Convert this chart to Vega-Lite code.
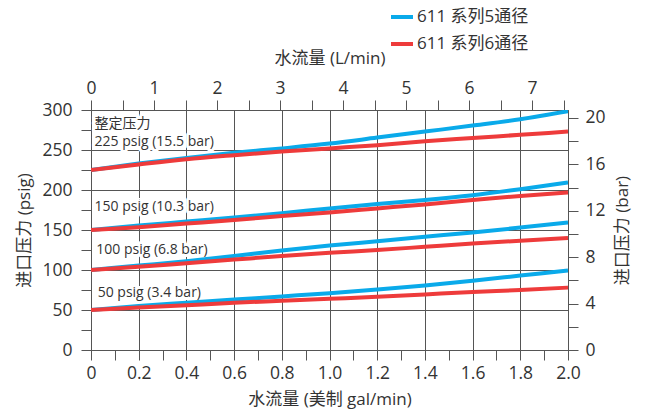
{
  "$schema": "https://vega.github.io/schema/vega-lite/v6.json",
  "width": 477,
  "height": 240,
  "autosize": {"type": "none"},
  "padding": {"left": 91, "top": 110, "right": 84, "bottom": 66},
  "config": {
    "font": "Open Sans, Noto Sans CJK SC",
    "view": {"stroke": "#555", "strokeWidth": 1},
    "axis": {"labelFont": "Open Sans, Noto Sans CJK SC", "titleFont": "Open Sans, Noto Sans CJK SC", "labelColor": "#333", "titleColor": "#333", "titleFontWeight": "normal", "labelFontSize": 17.5, "titleFontSize": 17, "tickColor": "#555", "domainColor": "#555", "tickSize": 10, "gridColor": "#555", "gridWidth": 1, "labelFlush": false, "labelOverlap": false},
    "axisY": {"labelOverlap": false},
    "axisLeft": {"labelOverlap": false},
    "axisQuantitative": {"labelOverlap": false}
  },
  "datasets": {
    "flow": [
      {"series": "611 系列5通径", "set": 225, "gal": 0, "psi": 225}, {"series": "611 系列5通径", "set": 225, "gal": 0.2, "psi": 233}, {"series": "611 系列5通径", "set": 225, "gal": 0.4, "psi": 240}, {"series": "611 系列5通径", "set": 225, "gal": 0.6, "psi": 246.5}, {"series": "611 系列5通径", "set": 225, "gal": 0.8, "psi": 252}, {"series": "611 系列5通径", "set": 225, "gal": 1.0, "psi": 258}, {"series": "611 系列5通径", "set": 225, "gal": 1.2, "psi": 265.5}, {"series": "611 系列5通径", "set": 225, "gal": 1.4, "psi": 273}, {"series": "611 系列5通径", "set": 225, "gal": 1.6, "psi": 280.5}, {"series": "611 系列5通径", "set": 225, "gal": 1.8, "psi": 288.5}, {"series": "611 系列5通径", "set": 225, "gal": 2.0, "psi": 298.5},
      {"series": "611 系列6通径", "set": 225, "gal": 0, "psi": 225}, {"series": "611 系列6通径", "set": 225, "gal": 0.2, "psi": 232}, {"series": "611 系列6通径", "set": 225, "gal": 0.4, "psi": 238.5}, {"series": "611 系列6通径", "set": 225, "gal": 0.6, "psi": 243.5}, {"series": "611 系列6通径", "set": 225, "gal": 0.8, "psi": 248}, {"series": "611 系列6通径", "set": 225, "gal": 1.0, "psi": 252}, {"series": "611 系列6通径", "set": 225, "gal": 1.2, "psi": 256}, {"series": "611 系列6通径", "set": 225, "gal": 1.4, "psi": 261}, {"series": "611 系列6通径", "set": 225, "gal": 1.6, "psi": 265}, {"series": "611 系列6通径", "set": 225, "gal": 1.8, "psi": 269}, {"series": "611 系列6通径", "set": 225, "gal": 2.0, "psi": 273},
      {"series": "611 系列5通径", "set": 150, "gal": 0, "psi": 150}, {"series": "611 系列5通径", "set": 150, "gal": 0.2, "psi": 155.5}, {"series": "611 系列5通径", "set": 150, "gal": 0.4, "psi": 160.5}, {"series": "611 系列5通径", "set": 150, "gal": 0.6, "psi": 165.5}, {"series": "611 系列5通径", "set": 150, "gal": 0.8, "psi": 171}, {"series": "611 系列5通径", "set": 150, "gal": 1.0, "psi": 177}, {"series": "611 系列5通径", "set": 150, "gal": 1.2, "psi": 182.5}, {"series": "611 系列5通径", "set": 150, "gal": 1.4, "psi": 187.5}, {"series": "611 系列5通径", "set": 150, "gal": 1.6, "psi": 193.5}, {"series": "611 系列5通径", "set": 150, "gal": 1.8, "psi": 201}, {"series": "611 系列5通径", "set": 150, "gal": 2.0, "psi": 209.5},
      {"series": "611 系列6通径", "set": 150, "gal": 0, "psi": 150}, {"series": "611 系列6通径", "set": 150, "gal": 0.2, "psi": 153.5}, {"series": "611 系列6通径", "set": 150, "gal": 0.4, "psi": 158}, {"series": "611 系列6通径", "set": 150, "gal": 0.6, "psi": 162.5}, {"series": "611 系列6通径", "set": 150, "gal": 0.8, "psi": 167.5}, {"series": "611 系列6通径", "set": 150, "gal": 1.0, "psi": 172}, {"series": "611 系列6通径", "set": 150, "gal": 1.2, "psi": 177}, {"series": "611 系列6通径", "set": 150, "gal": 1.4, "psi": 182}, {"series": "611 系列6通径", "set": 150, "gal": 1.6, "psi": 187.5}, {"series": "611 系列6通径", "set": 150, "gal": 1.8, "psi": 192.5}, {"series": "611 系列6通径", "set": 150, "gal": 2.0, "psi": 197},
      {"series": "611 系列5通径", "set": 100, "gal": 0, "psi": 100}, {"series": "611 系列5通径", "set": 100, "gal": 0.2, "psi": 105.5}, {"series": "611 系列5通径", "set": 100, "gal": 0.4, "psi": 111}, {"series": "611 系列5通径", "set": 100, "gal": 0.6, "psi": 117.5}, {"series": "611 系列5通径", "set": 100, "gal": 0.8, "psi": 124.5}, {"series": "611 系列5通径", "set": 100, "gal": 1.0, "psi": 130.5}, {"series": "611 系列5通径", "set": 100, "gal": 1.2, "psi": 136}, {"series": "611 系列5通径", "set": 100, "gal": 1.4, "psi": 141.5}, {"series": "611 系列5通径", "set": 100, "gal": 1.6, "psi": 147}, {"series": "611 系列5通径", "set": 100, "gal": 1.8, "psi": 153}, {"series": "611 系列5通径", "set": 100, "gal": 2.0, "psi": 159.5},
      {"series": "611 系列6通径", "set": 100, "gal": 0, "psi": 100}, {"series": "611 系列6通径", "set": 100, "gal": 0.2, "psi": 104}, {"series": "611 系列6通径", "set": 100, "gal": 0.4, "psi": 108.5}, {"series": "611 系列6通径", "set": 100, "gal": 0.6, "psi": 113}, {"series": "611 系列6通径", "set": 100, "gal": 0.8, "psi": 117.5}, {"series": "611 系列6通径", "set": 100, "gal": 1.0, "psi": 121.5}, {"series": "611 系列6通径", "set": 100, "gal": 1.2, "psi": 125}, {"series": "611 系列6通径", "set": 100, "gal": 1.4, "psi": 129}, {"series": "611 系列6通径", "set": 100, "gal": 1.6, "psi": 133}, {"series": "611 系列6通径", "set": 100, "gal": 1.8, "psi": 136.7}, {"series": "611 系列6通径", "set": 100, "gal": 2.0, "psi": 140},
      {"series": "611 系列5通径", "set": 50, "gal": 0, "psi": 50}, {"series": "611 系列5通径", "set": 50, "gal": 0.2, "psi": 55}, {"series": "611 系列5通径", "set": 50, "gal": 0.4, "psi": 59}, {"series": "611 系列5通径", "set": 50, "gal": 0.6, "psi": 63}, {"series": "611 系列5通径", "set": 50, "gal": 0.8, "psi": 67}, {"series": "611 系列5通径", "set": 50, "gal": 1.0, "psi": 71}, {"series": "611 系列5通径", "set": 50, "gal": 1.2, "psi": 75.5}, {"series": "611 系列5通径", "set": 50, "gal": 1.4, "psi": 80.5}, {"series": "611 系列5通径", "set": 50, "gal": 1.6, "psi": 86.5}, {"series": "611 系列5通径", "set": 50, "gal": 1.8, "psi": 93}, {"series": "611 系列5通径", "set": 50, "gal": 2.0, "psi": 99.5},
      {"series": "611 系列6通径", "set": 50, "gal": 0, "psi": 50}, {"series": "611 系列6通径", "set": 50, "gal": 0.2, "psi": 53}, {"series": "611 系列6通径", "set": 50, "gal": 0.4, "psi": 56}, {"series": "611 系列6通径", "set": 50, "gal": 0.6, "psi": 59}, {"series": "611 系列6通径", "set": 50, "gal": 0.8, "psi": 61.5}, {"series": "611 系列6通径", "set": 50, "gal": 1.0, "psi": 64}, {"series": "611 系列6通径", "set": 50, "gal": 1.2, "psi": 66.5}, {"series": "611 系列6通径", "set": 50, "gal": 1.4, "psi": 69.5}, {"series": "611 系列6通径", "set": 50, "gal": 1.6, "psi": 72.5}, {"series": "611 系列6通径", "set": 50, "gal": 1.8, "psi": 75}, {"series": "611 系列6通径", "set": 50, "gal": 2.0, "psi": 78}
    ],
    "notes": [
      {"label": "整定压力", "gal": 0.015, "psi": 283},
      {"label": "225 psig (15.5 bar)", "gal": 0.015, "psi": 260},
      {"label": "150 psig (10.3 bar)", "gal": 0.015, "psi": 178.5},
      {"label": "100 psig (6.8 bar)", "gal": 0.022, "psi": 125},
      {"label": "50 psig (3.4 bar)", "gal": 0.028, "psi": 71}
    ],
    "second": [{"lpm": 0, "bar": 0}]
  },
  "layer": [
    {
      "encoding": {
        "x": {"field": "gal", "type": "quantitative", "scale": {"domain": [0, 2], "nice": false},
          "axis": {"orient": "bottom", "title": "水流量 (美制 gal/min)", "values": [0, 0.1, 0.2, 0.3, 0.4, 0.5, 0.6, 0.7, 0.8, 0.9, 1.0, 1.1, 1.2, 1.3, 1.4, 1.5, 1.6, 1.7, 1.8, 1.9, 2.0],
            "labelExpr": "datum.value == 0 ? '0' : (round(datum.value*10) % 2 == 0 ? format(datum.value, '.1f') : '')",
            "labelOverlap": false,
            "grid": true, "gridOpacity": {"condition": {"test": "round(datum.value*10) % 2 == 0", "value": 1}, "value": 0},
            "labelPadding": 4, "titlePadding": 10}},
        "y": {"field": "psi", "type": "quantitative", "scale": {"domain": [0, 300], "nice": false},
          "axis": {"orient": "left", "title": "进口压力 (psig)", "values": [0, 25, 50, 75, 100, 125, 150, 175, 200, 225, 250, 275, 300],
            "labelExpr": "datum.value % 50 == 0 ? format(datum.value, 'd') : ''",
            "labelOverlap": false,
            "grid": true, "gridOpacity": {"condition": {"test": "datum.value % 50 == 0", "value": 1}, "value": 0},
            "labelPadding": 9, "titlePadding": 8}}
      },
      "layer": [
        {
          "data": {"name": "notes"},
          "mark": {"type": "text", "align": "left", "baseline": "middle", "fontSize": 14, "color": "white", "stroke": "white", "strokeWidth": 6, "strokeJoin": "round", "font": "Open Sans, Noto Sans CJK SC"},
          "encoding": {
            "text": {"field": "label"}
          }
        },
        {
          "data": {"name": "flow"},
          "transform": [{"filter": "datum.series == '611 系列5通径'"}],
          "mark": {"type": "line", "strokeWidth": 4, "interpolate": "monotone", "clip": true},
          "encoding": {
            "color": {"field": "series", "type": "nominal", "scale": {"domain": ["611 系列5通径", "611 系列6通径"], "range": ["#0aaaea", "#ee3b3b"]},
              "legend": {"orient": "none", "legendX": 298, "legendY": -106, "title": null, "symbolType": "stroke", "symbolSize": 484, "symbolStrokeWidth": 4, "labelFontSize": 17, "labelFont": "Open Sans, Noto Sans CJK SC", "labelColor": "#333", "rowPadding": 6, "labelOffset": 2}},
            "detail": {"field": "set", "type": "nominal"}
          }
        },
        {
          "data": {"name": "flow"},
          "transform": [{"filter": "datum.series == '611 系列6通径'"}],
          "mark": {"type": "line", "strokeWidth": 4, "interpolate": "monotone", "clip": true},
          "encoding": {
            "color": {"field": "series", "type": "nominal"},
            "detail": {"field": "set", "type": "nominal"}
          }
        },
        {
          "data": {"name": "notes"},
          "mark": {"type": "text", "align": "left", "baseline": "middle", "fontSize": 14, "color": "#333", "font": "Open Sans, Noto Sans CJK SC"},
          "encoding": {
            "text": {"field": "label"}
          }
        }
      ]
    },
    {
      "data": {"name": "second"},
      "mark": {"type": "point", "opacity": 0},
      "encoding": {
        "x": {"field": "lpm", "type": "quantitative", "scale": {"domain": [0, 7.5708], "nice": false},
          "axis": {"orient": "top", "title": "水流量 (L/min)", "values": [0, 0.5, 1, 1.5, 2, 2.5, 3, 3.5, 4, 4.5, 5, 5.5, 6, 6.5, 7, 7.5],
            "labelExpr": "datum.value % 1 == 0 ? format(datum.value, 'd') : ''", "labelOverlap": false, "grid": false, "domain": false, "labelPadding": 3, "titlePadding": 12}},
        "y": {"field": "bar", "type": "quantitative", "scale": {"domain": [0, 20.684], "nice": false},
          "axis": {"orient": "right", "title": "进口压力 (bar)", "titleAngle": 270, "titleBaseline": "middle", "titleAlign": "center", "titleX": 54, "titleY": 120,
            "values": [0, 2, 4, 6, 8, 10, 12, 14, 16, 18, 20],
            "labelExpr": "datum.value % 4 == 0 ? format(datum.value, 'd') : ''", "labelOverlap": false, "grid": false, "domain": false, "labelPadding": 7}}
      }
    }
  ],
  "resolve": {"scale": {"x": "independent", "y": "independent"}}
}
